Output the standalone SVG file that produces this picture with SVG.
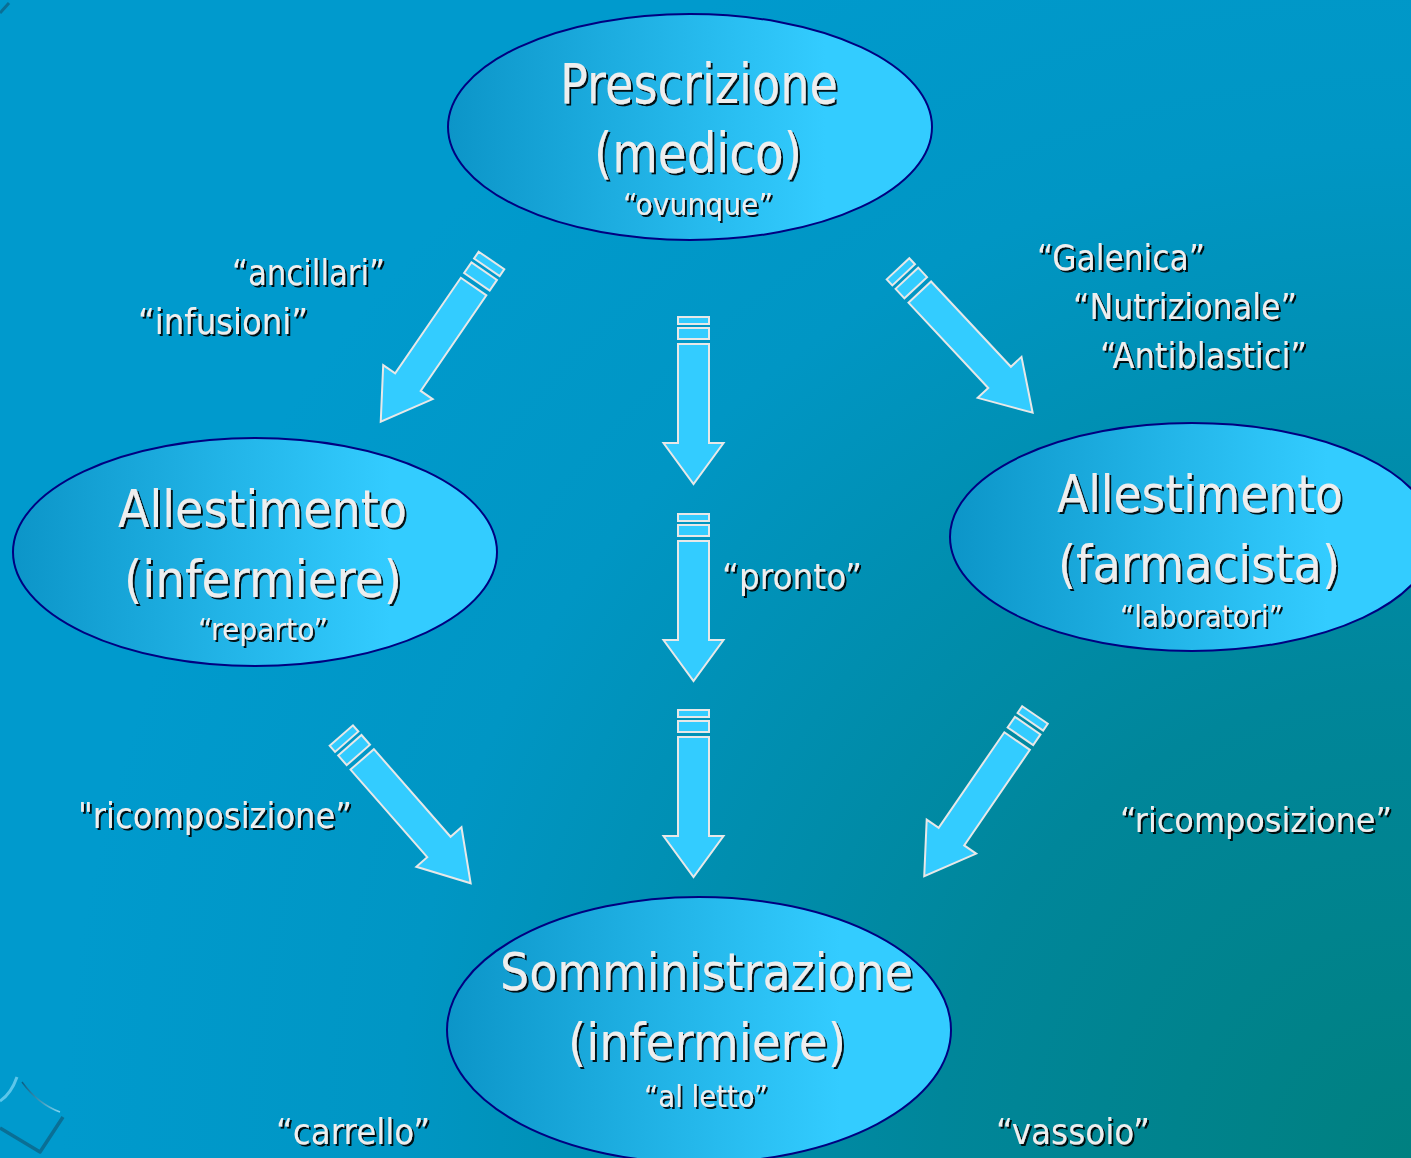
<svg xmlns="http://www.w3.org/2000/svg" width="1411" height="1158" viewBox="0 0 1411 1158">
<defs>
<radialGradient id="bg" gradientUnits="userSpaceOnUse" cx="1411" cy="1158" r="1350">
<stop offset="0" stop-color="#008080"/>
<stop offset="0.35" stop-color="#00869a"/>
<stop offset="0.75" stop-color="#0096c4"/>
<stop offset="1" stop-color="#009acd"/>
</radialGradient>
<linearGradient id="ell" x1="0" y1="0" x2="1" y2="0">
<stop offset="0" stop-color="#0c95c8"/>
<stop offset="0.78" stop-color="#33ccff"/>
<stop offset="1" stop-color="#33ccff"/>
</linearGradient>
<linearGradient id="thin" x1="0" y1="0" x2="1" y2="0">
<stop offset="0" stop-color="#0a5f85"/>
<stop offset="1" stop-color="#7fd6f2"/>
</linearGradient>
<filter id="sh" x="-5%" y="-20%" width="112%" height="150%">
<feDropShadow dx="2" dy="2" stdDeviation="0.2" flood-color="#000000" flood-opacity="0.9"/>
</filter>
<style>
.node ellipse{fill:url(#ell);stroke:#000080;stroke-width:2}
text{font-family:"DejaVu Sans","Liberation Sans",sans-serif;fill:#eeeeee;filter:url(#sh)}
.big{font-size:52px}
.big2{font-size:56px}
.small{font-size:30px}
.lbl{font-size:35px}
.ar rect,.ar polygon{fill:#33ccff;stroke:#e8e8e8;stroke-width:2;vector-effect:non-scaling-stroke}
</style>
</defs>
<rect width="1411" height="1158" fill="url(#bg)"/>
<g id="decor">
<path d="M0,13 L9,3" stroke="#0a6f95" stroke-width="3" fill="none"/>
<path d="M0,1128 L40,1152 L63,1117" stroke="#0a6f95" stroke-width="3.5" fill="none" stroke-linejoin="round"/>
<path d="M0,1101 Q11,1094 17,1077" stroke="#5cc6ea" stroke-width="3" fill="none"/>
<path d="M22,1082 Q38,1104 60,1112" stroke="url(#thin)" stroke-width="1.5" fill="none"/>
</g>
<g id="connectors">
<g class="ar" transform="translate(693.5,317)">
<rect x="-15.5" y="0" width="31" height="7"/><rect x="-15.5" y="11" width="31" height="11"/>
<polygon points="-15.5,27 15.5,27 15.5,126 30,126 0,167 -30,126 -15.5,126"/>
</g>
<g class="ar" transform="translate(693.5,514)">
<rect x="-15.5" y="0" width="31" height="7"/><rect x="-15.5" y="11" width="31" height="11"/>
<polygon points="-15.5,27 15.5,27 15.5,126 30,126 0,167 -30,126 -15.5,126"/>
</g>
<g class="ar" transform="translate(693.5,710)">
<rect x="-15.5" y="0" width="31" height="7"/><rect x="-15.5" y="11" width="31" height="11"/>
<polygon points="-15.5,27 15.5,27 15.5,126 30,126 0,167 -30,126 -15.5,126"/>
</g>
<g class="ar" transform="translate(491.5,260.5) rotate(34.5) scale(1,1.171)">
<rect x="-15.5" y="0" width="31" height="7"/><rect x="-15.5" y="11" width="31" height="11"/>
<polygon points="-15.5,27 15.5,27 15.5,126 30,126 0,167 -30,126 -15.5,126"/>
</g>
<g class="ar" transform="translate(898,268.8) rotate(-43.1) scale(1,1.18)">
<rect x="-15.5" y="0" width="31" height="7"/><rect x="-15.5" y="11" width="31" height="11"/>
<polygon points="-15.5,27 15.5,27 15.5,126 30,126 0,167 -30,126 -15.5,126"/>
</g>
<g class="ar" transform="translate(341.3,735.5) rotate(-41.2) scale(1,1.176)">
<rect x="-15.5" y="0" width="31" height="7"/><rect x="-15.5" y="11" width="31" height="11"/>
<polygon points="-15.5,27 15.5,27 15.5,126 30,126 0,167 -30,126 -15.5,126"/>
</g>
<g class="ar" transform="translate(1035,715) rotate(34.5) scale(1,1.171)">
<rect x="-15.5" y="0" width="31" height="7"/><rect x="-15.5" y="11" width="31" height="11"/>
<polygon points="-15.5,27 15.5,27 15.5,126 30,126 0,167 -30,126 -15.5,126"/>
</g>
</g>
<g id="node-prescrizione" class="node">
<ellipse cx="690" cy="127" rx="242" ry="113"/>
<text class="big2" x="560" y="103" textLength="278" lengthAdjust="spacingAndGlyphs">Prescrizione</text>
<text class="big2" x="594" y="172" textLength="208" lengthAdjust="spacingAndGlyphs">(medico)</text>
<text class="small" x="623" y="215" textLength="150" lengthAdjust="spacingAndGlyphs">“ovunque”</text>
</g>
<g id="node-allestimento-infermiere" class="node">
<ellipse cx="255" cy="552" rx="242" ry="114"/>
<text class="big" x="118" y="527" textLength="289" lengthAdjust="spacingAndGlyphs">Allestimento</text>
<text class="big" x="124" y="597" textLength="278" lengthAdjust="spacingAndGlyphs">(infermiere)</text>
<text class="small" x="198" y="640" textLength="130" lengthAdjust="spacingAndGlyphs">“reparto”</text>
</g>
<g id="node-allestimento-farmacista" class="node">
<ellipse cx="1192" cy="537" rx="242" ry="114"/>
<text class="big" x="1057" y="512" textLength="286" lengthAdjust="spacingAndGlyphs">Allestimento</text>
<text class="big" x="1058" y="582" textLength="282" lengthAdjust="spacingAndGlyphs">(farmacista)</text>
<text class="small" x="1120" y="627" textLength="163" lengthAdjust="spacingAndGlyphs">“laboratori”</text>
</g>
<g id="node-somministrazione" class="node">
<ellipse cx="699" cy="1030" rx="252" ry="133"/>
<text class="big" x="500" y="990" textLength="413" lengthAdjust="spacingAndGlyphs">Somministrazione</text>
<text class="big" x="568" y="1060" textLength="278" lengthAdjust="spacingAndGlyphs">(infermiere)</text>
<text class="small" x="644" y="1107" textLength="124" lengthAdjust="spacingAndGlyphs">“al letto”</text>
</g>
<g id="labels">
<text class="lbl" x="232" y="285" textLength="153" lengthAdjust="spacingAndGlyphs">“ancillari”</text>
<text class="lbl" x="138" y="334" textLength="170" lengthAdjust="spacingAndGlyphs">“infusioni”</text>
<text class="lbl" x="1037" y="270" textLength="168" lengthAdjust="spacingAndGlyphs">“Galenica”</text>
<text class="lbl" x="1073" y="319" textLength="224" lengthAdjust="spacingAndGlyphs">“Nutrizionale”</text>
<text class="lbl" x="1100" y="368" textLength="207" lengthAdjust="spacingAndGlyphs">“Antiblastici”</text>
<text class="lbl" x="722" y="589" textLength="140" lengthAdjust="spacingAndGlyphs">“pronto”</text>
<text class="lbl" x="78" y="828" textLength="274" lengthAdjust="spacingAndGlyphs">"ricomposizione”</text>
<text class="lbl" x="1120" y="832" textLength="272" lengthAdjust="spacingAndGlyphs" style="font-size:33px">“ricomposizione”</text>
<text class="lbl" x="276" y="1144" textLength="154" lengthAdjust="spacingAndGlyphs">“carrello”</text>
<text class="lbl" x="996" y="1144" textLength="154" lengthAdjust="spacingAndGlyphs">“vassoio”</text>
</g>
</svg>
